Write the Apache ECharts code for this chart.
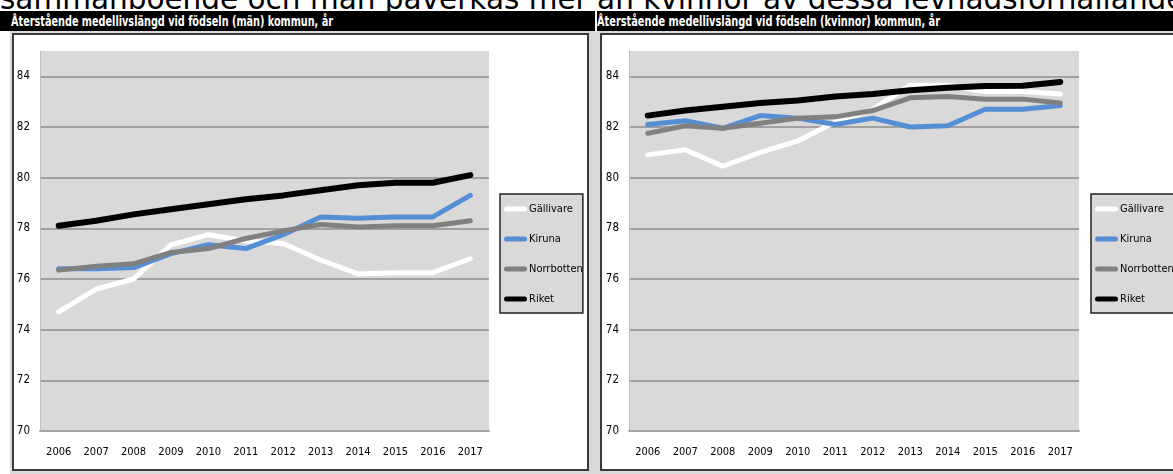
<!DOCTYPE html>
<html>
<head>
<meta charset="utf-8">
<script src="https://cdn.jsdelivr.net/npm/echarts/dist/echarts.min.js"></script>
<style>
  html, body { margin: 0; padding: 0; background: #ffffff; }
  body { width: 1173px; height: 474px; position: relative; overflow: hidden; }
  .toptext { position: absolute; left: 0; top: -15px; font-family: "DejaVu Sans", Verdana, sans-serif; font-size: 29.5px; line-height: 1; white-space: nowrap; color: #000; }
  .gray { position: absolute; left: 10px; top: 31px; width: 1163px; height: 443px; background: #d9d9d9; }
  .bar { position: absolute; top: 11px; height: 20px; background: #000; overflow: hidden; box-sizing: border-box; }
  .bar span { position: absolute; top: 0; color: #fff; font-family: "DejaVu Sans Condensed", "Liberation Sans", sans-serif; font-weight: bold; font-size: 14px; line-height: 20px; white-space: nowrap; transform-origin: 0 50%; }
  .frame { position: absolute; top: 33px; height: 438px; background: #fff; border: 2px solid #3a3a3a; box-sizing: border-box; }
  #chart { position: absolute; left: 0; top: 0; width: 1173px; height: 474px; }
</style>
</head>
<body>
<div class="toptext">sammanboende och män påverkas mer än kvinnor av dessa levnadsförhållanden</div>
<div class="gray"></div>
<div class="bar" style="left:0; width:595px;"><span style="left:11px;" data-w="322">Återstående medellivslängd vid födseln (män) kommun, år</span></div>
<div class="bar" style="left:597px; width:576px;"><span style="left:0px;" data-w="343">Återstående medellivslängd vid födseln (kvinnor) kommun, år</span></div>
<div class="frame" style="left:12px; width:577px;"></div>
<div class="frame" style="left:600px; width:590px;"></div>
<div id="chart"></div>
<script>
// ---- data ----
const years = ['2006','2007','2008','2009','2010','2011','2012','2013','2014','2015','2016','2017'];
const seriesNames = ['Gällivare', 'Kiruna', 'Norrbotten', 'Riket'];
const yTicks = { min: 70, max: 85, step: 2 };

const manGallivare  = [74.7, 75.6, 76.0, 77.35, 77.75, 77.5, 77.4, 76.75, 76.2, 76.25, 76.25, 76.8];
const manKiruna     = [76.4, 76.4, 76.45, 77.0, 77.35, 77.2, 77.75, 78.45, 78.4, 78.45, 78.45, 79.3];
const manNorrbotten = [76.35, 76.5, 76.6, 77.05, 77.2, 77.6, 77.9, 78.15, 78.05, 78.1, 78.1, 78.3];
const manRiket      = [78.1, 78.3, 78.55, 78.75, 78.95, 79.15, 79.3, 79.5, 79.7, 79.8, 79.8, 80.1];

const womenGallivare  = [80.9, 81.1, 80.45, 81.0, 81.45, 82.2, 82.7, 83.65, 83.65, 83.4, 83.4, 83.3];
const womenKiruna     = [82.1, 82.25, 81.95, 82.45, 82.35, 82.1, 82.35, 82.0, 82.05, 82.7, 82.7, 82.85];
const womenNorrbotten = [81.75, 82.05, 81.95, 82.15, 82.35, 82.4, 82.65, 83.15, 83.2, 83.1, 83.1, 82.95];
const womenRiket      = [82.45, 82.65, 82.8, 82.95, 83.05, 83.2, 83.3, 83.45, 83.55, 83.62, 83.63, 83.78];

// fit the condensed titles to their width in the reference
document.querySelectorAll('.bar span').forEach(function (s) {
  const target = parseFloat(s.getAttribute('data-w'));
  const w = s.getBoundingClientRect().width;
  if (w > 0) s.style.transform = 'scaleX(' + (target / w) + ')';
});

// ---- styling ----
const colors = ['#ffffff', '#558ed5', '#808080', '#000000'];
const widths = [5, 5, 5, 6];
const FONT = '"DejaVu Sans Condensed", "Liberation Sans", sans-serif';

const chart = echarts.init(document.getElementById('chart'), null, { renderer: 'canvas' });

function xAxis(gi) {
  return {
    type: 'category', gridIndex: gi, data: years, boundaryGap: true,
    axisLine: { show: true, lineStyle: { color: '#a6a6a6', width: 2 } },
    axisTick: { show: false },
    axisLabel: { color: '#000', fontFamily: FONT, fontSize: 11, margin: 16 },
    splitLine: { show: false }
  };
}
function yAxis(gi) {
  return {
    type: 'value', gridIndex: gi, min: yTicks.min, max: yTicks.max, interval: yTicks.step,
    axisLine: { show: true, lineStyle: { color: '#bdbdbd', width: 1 } },
    axisTick: { show: false },
    axisLabel: { color: '#000', fontFamily: FONT, fontSize: 11.5, margin: 10, showMaxLabel: false },
    splitLine: { show: true, showMinLine: false, showMaxLine: false, lineStyle: { color: '#8e8e8e', width: 1.5 } }
  };
}
function mk(gi, name, data, i) {
  return {
    type: 'line', name: name, xAxisIndex: gi, yAxisIndex: gi, data: data,
    symbol: 'none', smooth: false, animation: false,
    lineStyle: { color: colors[i], width: widths[i], cap: 'round', join: 'round' },
    itemStyle: { color: colors[i] }
  };
}
function legend(left) {
  return {
    left: left, top: 194, orient: 'vertical', data: seriesNames,
    backgroundColor: '#d9d9d9', borderColor: '#222', borderWidth: 1.5,
    padding: [8, 0, 7, 4], itemGap: 16, itemWidth: 23, itemHeight: 5,
    icon: 'path://M2.5,0 L20.5,0 A2.5,2.5 0 0 1 20.5,5 L2.5,5 A2.5,2.5 0 0 1 2.5,0 Z',
    textStyle: { color: '#000', fontFamily: FONT, fontSize: 11, lineHeight: 14, padding: [0, 0, 0, -3] },
    selectedMode: false
  };
}

const manData = [manGallivare, manKiruna, manNorrbotten, manRiket];
const womenData = [womenGallivare, womenKiruna, womenNorrbotten, womenRiket];

chart.setOption({
  animation: false,
  backgroundColor: 'transparent',
  grid: [
    { left: 40, top: 51, width: 449, height: 380, show: true, backgroundColor: '#d9d9d9', borderWidth: 0 },
    { left: 629, top: 51, width: 450, height: 380, show: true, backgroundColor: '#d9d9d9', borderWidth: 0 }
  ],
  xAxis: [xAxis(0), xAxis(1)],
  yAxis: [yAxis(0), yAxis(1)],
  legend: [legend(500), legend(1091)],
  series: [
    ...seriesNames.map((n, i) => mk(0, n, manData[i], i)),
    ...seriesNames.map((n, i) => mk(1, n, womenData[i], i))
  ]
});
</script>
</body>
</html>
